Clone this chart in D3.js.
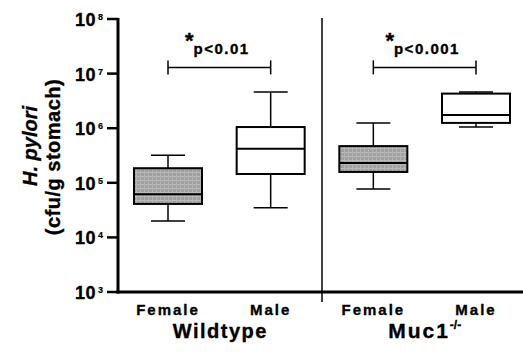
<!DOCTYPE html>
<html>
<head>
<meta charset="utf-8">
<script src="https://cdn.jsdelivr.net/npm/d3@7"></script>
<style>
  body { margin: 0; background: #fff; }
  svg { display: block; font-family: "Liberation Sans", Arial, sans-serif; }
  .lbl { font-weight: bold; fill: #000; stroke: #000; stroke-width: 0.35px; }
</style>
</head>
<body>
<div id="wrapper"></div>
<script>
// box plot values (cfu/g stomach)
const categories = ["WT-F", "WT-M", "KO-F", "KO-M"]
const catLabels = ["Female", "Male", "Female", "Male"]
const filled = [true, false, true, false]
const whiskerLow = [2.0e4, 3.5e4, 7.7e4, 1.05e6]
const q1 = [4.1e4, 1.45e5, 1.58e5, 1.25e6]
const median = [6.2e4, 4.2e5, 2.3e5, 1.74e6]
const q3 = [1.85e5, 1.05e6, 4.7e5, 4.3e6]
const whiskerHigh = [3.2e5, 4.6e6, 1.25e6, 4.6e6]
const tickExps = [3, 4, 5, 6, 7, 8]
const groups = ["Wildtype", "Muc1"]
const sigLabels = ["p<0.01", "p<0.001"]
const sigLevel = [1.3e7, 1.3e7]

const width = 523
const height = 354
const axisX = 118
const axisY = 292

const svg = d3.select("#wrapper").append("svg")
  .attr("width", width)
  .attr("height", height)

// hatched grey fill for the female boxes
const defs = svg.append("defs")
const pat = defs.append("pattern")
  .attr("id", "grey-hatch")
  .attr("patternUnits", "userSpaceOnUse")
  .attr("width", 4).attr("height", 4)
pat.append("rect").attr("width", 4).attr("height", 4).attr("fill", "#a0a0a0")
pat.append("rect").attr("width", 4).attr("height", 1).attr("fill", "#bababa")
pat.append("rect").attr("width", 1).attr("height", 4).attr("fill", "#b4b4b4")

const y = d3.scaleLog().domain([1e3, 1e8]).range([axisY, 19])
const x = d3.scalePoint().domain(categories).range([168, 476])

const boxHalf = 34
const capHalf = 17

// divider between the two genotypes
const divX = (x("WT-M") + x("KO-F")) / 2
svg.append("line")
  .attr("x1", divX).attr("x2", divX)
  .attr("y1", 18).attr("y2", 302)
  .attr("stroke", "#000").attr("stroke-width", 1.5)

const boxes = svg.selectAll(".box")
  .data(categories)
  .enter().append("g")
  .attr("class", "box")

// whiskers
boxes.append("line")
  .attr("x1", d => x(d)).attr("x2", d => x(d))
  .attr("y1", (d, i) => y(whiskerLow[i]))
  .attr("y2", (d, i) => y(whiskerHigh[i]))
  .attr("stroke", "#000").attr("stroke-width", 1.5)
boxes.append("line")
  .attr("x1", d => x(d) - capHalf).attr("x2", d => x(d) + capHalf)
  .attr("y1", (d, i) => y(whiskerLow[i])).attr("y2", (d, i) => y(whiskerLow[i]))
  .attr("stroke", "#000").attr("stroke-width", 1.5)
boxes.append("line")
  .attr("x1", d => x(d) - capHalf).attr("x2", d => x(d) + capHalf)
  .attr("y1", (d, i) => y(whiskerHigh[i])).attr("y2", (d, i) => y(whiskerHigh[i]))
  .attr("stroke", "#000").attr("stroke-width", 1.5)

boxes.append("rect")
  .attr("x", d => x(d) - boxHalf)
  .attr("width", boxHalf * 2)
  .attr("y", (d, i) => y(q3[i]))
  .attr("height", (d, i) => y(q1[i]) - y(q3[i]))
  .attr("fill", (d, i) => filled[i] ? "url(#grey-hatch)" : "#fff")
  .attr("stroke", "#000").attr("stroke-width", 2)

boxes.append("line")
  .attr("x1", d => x(d) - boxHalf).attr("x2", d => x(d) + boxHalf)
  .attr("y1", (d, i) => y(median[i])).attr("y2", (d, i) => y(median[i]))
  .attr("stroke", "#000").attr("stroke-width", 2)

// axes
svg.append("line")
  .attr("x1", axisX).attr("x2", axisX)
  .attr("y1", y(1e8) - 1).attr("y2", axisY + 1.5)
  .attr("stroke", "#000").attr("stroke-width", 3)
svg.append("line")
  .attr("x1", axisX - 1.5).attr("x2", width)
  .attr("y1", axisY).attr("y2", axisY)
  .attr("stroke", "#000").attr("stroke-width", 3)

const ticks = svg.selectAll(".tick")
  .data(tickExps)
  .enter().append("g")
  .attr("class", "tick")
  .attr("transform", d => `translate(0,${y(Math.pow(10, d))})`)
ticks.append("line")
  .attr("x1", axisX - 11).attr("x2", axisX)
  .attr("stroke", "#000").attr("stroke-width", 2.5)
ticks.append("text")
  .attr("class", "lbl")
  .attr("x", 96).attr("y", 7)
  .attr("text-anchor", "end")
  .style("font-size", "18px")
  .style("letter-spacing", "0.5px")
  .text("10")
ticks.append("text")
  .attr("class", "lbl")
  .attr("x", 98).attr("y", 1)
  .style("font-size", "9px")
  .style("stroke-width", "0.2px")
  .text(d => d)

// category labels
svg.selectAll(".cat")
  .data(categories)
  .enter().append("text")
  .attr("class", "lbl")
  .attr("x", d => x(d))
  .attr("y", 315)
  .attr("text-anchor", "middle")
  .style("font-size", "15px")
  .style("letter-spacing", "2px")
  .text((d, i) => catLabels[i])

// group labels
svg.append("text")
  .attr("class", "lbl")
  .attr("x", (x("WT-F") + x("WT-M")) / 2 + 1)
  .attr("y", 338)
  .attr("text-anchor", "middle")
  .style("font-size", "20px")
  .style("letter-spacing", "1.5px")
  .text(groups[0])
const muc = svg.append("text")
  .attr("class", "lbl")
  .attr("x", (x("KO-F") + x("KO-M")) / 2)
  .attr("y", 338)
  .attr("text-anchor", "middle")
  .style("font-size", "21px")
  .style("letter-spacing", "2px")
muc.append("tspan").text(groups[1])
muc.append("tspan").attr("dy", -9).style("font-size", "12px").style("letter-spacing", "0px").text("-/-")

// significance brackets
const pairs = [["WT-F", "WT-M"], ["KO-F", "KO-M"]]
pairs.forEach((p, i) => {
  const x0 = x(p[0]), x1 = x(p[1]), yy = y(sigLevel[i])
  const g = svg.append("g")
  g.append("line").attr("x1", x0).attr("x2", x1).attr("y1", yy).attr("y2", yy)
    .attr("stroke", "#000").attr("stroke-width", 1.5)
  g.append("line").attr("x1", x0).attr("x2", x0).attr("y1", yy - 7).attr("y2", yy + 7)
    .attr("stroke", "#000").attr("stroke-width", 1.5)
  g.append("line").attr("x1", x1).attr("x2", x1).attr("y1", yy - 7).attr("y2", yy + 7)
    .attr("stroke", "#000").attr("stroke-width", 1.5)
  const cx = (x0 + x1) / 2 - 2
  const t = g.append("text")
    .attr("class", "lbl")
    .attr("x", cx)
    .attr("y", yy - 13)
    .attr("text-anchor", "middle")
  t.append("tspan").attr("dy", -6).style("font-size", "22px").text("*")
  t.append("tspan").attr("dy", 6).style("font-size", "15px").style("letter-spacing", "1.5px")
    .text(sigLabels[i])
})

// y axis title
const yt = svg.append("g")
  .attr("transform", "translate(0,150) rotate(-90)")
yt.append("text")
  .attr("class", "lbl")
  .attr("x", 4).attr("y", 37)
  .attr("text-anchor", "middle")
  .style("font-size", "20px")
  .style("font-style", "italic")
  .text("H. pylori")
yt.append("text")
  .attr("class", "lbl")
  .attr("x", -7).attr("y", 60)
  .attr("text-anchor", "middle")
  .style("font-size", "20px")
  .style("letter-spacing", "0.5px")
  .text("(cfu/g stomach)")
</script>
</body>
</html>
